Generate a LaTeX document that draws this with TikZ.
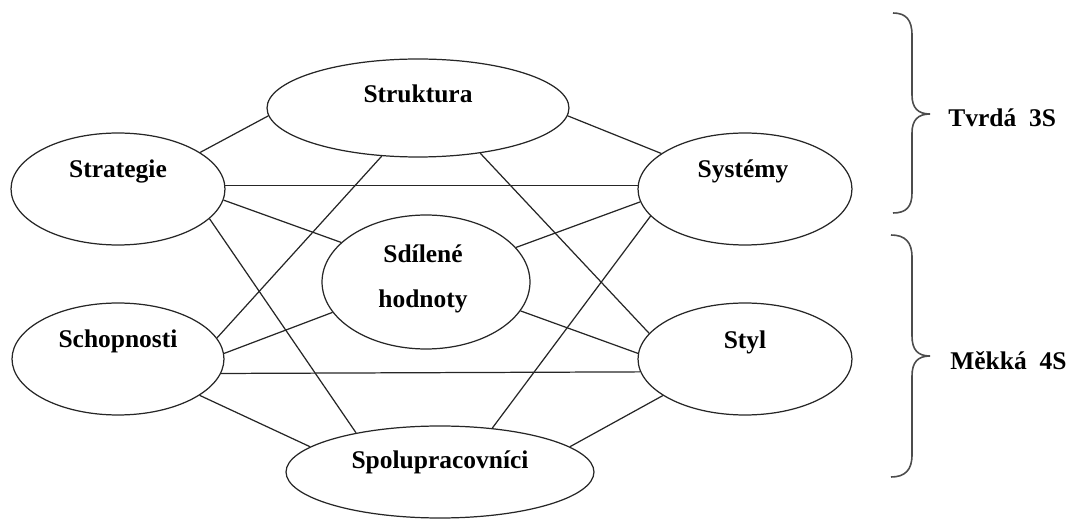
\documentclass[tikz,border=0pt]{standalone}
\usepackage{fontspec}
\setmainfont{Liberation Serif}
\usetikzlibrary{shapes.geometric}
\begin{document}
\begin{tikzpicture}[x=0.02cm,y=-0.02cm,
  ell/.style={ellipse,draw=black!85,line width=0.7pt,inner sep=0pt},
  lbl/.style={font=\fontsize{14.5}{17}\selectfont\bfseries,inner sep=0pt,anchor=base},
  side/.style={font=\fontsize{14.5}{17}\selectfont\bfseries,inner sep=0pt,anchor=base west},
  conn/.style={draw=black!85,line width=0.7pt},
  brc/.style={draw=black!70,line width=0.9pt}]
\useasboundingbox (0,0) rectangle (1076,520);
% ellipses
\node[ell,minimum width=6.04cm,minimum height=1.96cm] (strukt) at (418,108) {};
\node[ell,minimum width=4.28cm,minimum height=2.24cm] (strat) at (118,189) {};
\node[ell,minimum width=4.28cm,minimum height=2.24cm] (syst) at (745,189) {};
\node[ell,minimum width=4.16cm,minimum height=2.68cm] (sdil) at (426,282) {};
\node[ell,minimum width=4.24cm,minimum height=2.24cm] (schop) at (118,359) {};
\node[ell,minimum width=4.28cm,minimum height=2.24cm] (styl) at (745,359) {};
\node[ell,minimum width=6.16cm,minimum height=1.84cm] (spol) at (440,472) {};
% labels
\node[lbl] (strukt-t) at (418,103) {Struktura};
\node[lbl] (strat-t) at (118,178) {Strategie};
\node[lbl] (syst-t) at (743,178) {Systémy};
\node[lbl] (sdil-t1) at (423,263) {Sdílené};
\node[lbl] (sdil-t2) at (423,308) {hodnoty};
\node[lbl] (schop-t) at (118,348) {Schopnosti};
\node[lbl] (styl-t) at (745,349) {Styl};
\node[lbl] (spol-t) at (440,468) {Spolupracovníci};
\node[side] (tvrda) at (948,127) {Tvrdá\ \ 3S};
\node[side] (mekka) at (950,370) {Měkká\ \ 4S};
% connectors
\draw[conn] (strat.24) -- (strukt.183);
\draw[conn] (strat.2) -- (syst.178);
\draw[conn] (strat.354) -- (sdil.155.6);
\draw[conn] (strat.342.7) -- (spol.155.4);
\draw[conn] (strukt.233.7) -- (schop.12.4);
\draw[conn] (strukt.324.9) -- (styl.165);
\draw[conn] (strukt.357) -- (syst.157.1);
\draw[conn] (syst.187.1) -- (sdil.21.5);
\draw[conn] (syst.196.1) -- (spol.40.9);
\draw[conn] (sdil.198.4) -- (schop.3.8);
\draw[conn] (sdil.343.7) -- (styl.177.9);
\draw[conn] (schop.352.2) -- (styl.187.7);
\draw[conn] (schop.336.3) -- (spol.169.7);
\draw[conn] (styl.204.9) -- (spol.11.9);
% braces
\draw[brc] (893,13) .. controls (906,13) and (912,20) .. (912,35) -- (912,95)
  .. controls (912,108) and (918,114) .. (930,114)
  .. controls (918,114) and (912,120) .. (912,133) -- (912,193)
  .. controls (912,207) and (906,213) .. (893,213);
\draw[brc] (891,235) .. controls (905,235) and (912,242) .. (912,257) -- (912,336)
  .. controls (912,350) and (918,356) .. (930,356)
  .. controls (918,356) and (912,362) .. (912,376) -- (912,455)
  .. controls (912,470) and (905,477) .. (891,477);
\end{tikzpicture}
\end{document}
